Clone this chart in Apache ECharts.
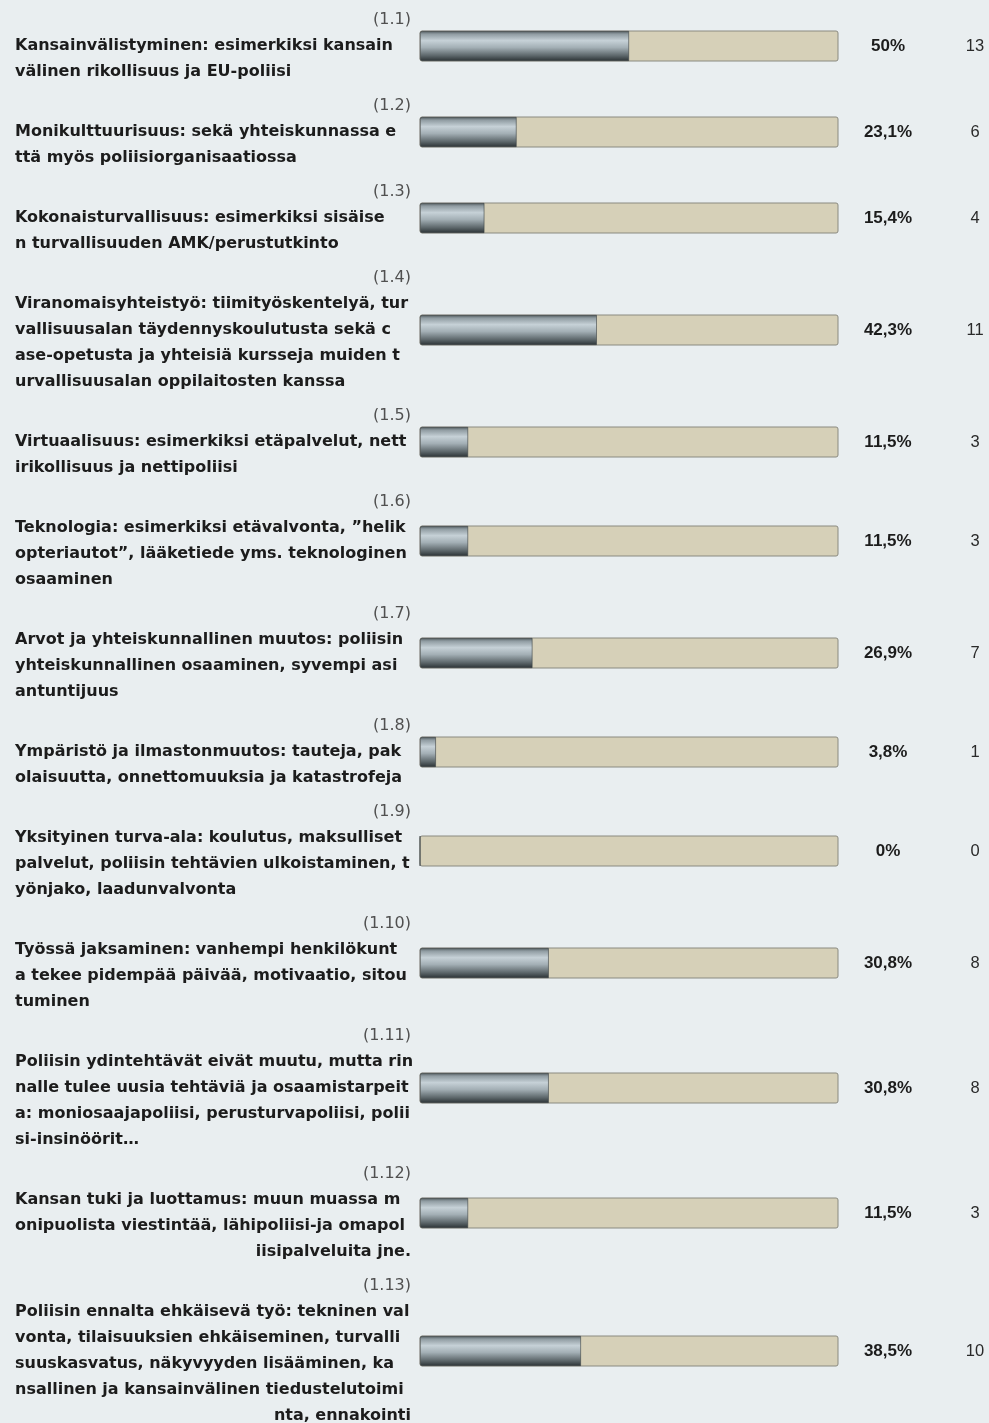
<!DOCTYPE html>
<html><head><meta charset="utf-8">
<script src="https://cdn.jsdelivr.net/npm/echarts@6/dist/echarts.min.js"></script>
<style>html,body{margin:0;padding:0;background:#e9eef0}#c{width:989px;height:1423px}</style>
</head><body><div id="c"></div>
<script>
// ---- data ----
const codes = ['(1.1)','(1.2)','(1.3)','(1.4)','(1.5)','(1.6)','(1.7)','(1.8)','(1.9)','(1.10)','(1.11)','(1.12)','(1.13)'];
const labelLines = [
  ['Kansainvälistyminen: esimerkiksi kansain','välinen rikollisuus ja EU-poliisi'],
  ['Monikulttuurisuus: sekä yhteiskunnassa e','ttä myös poliisiorganisaatiossa'],
  ['Kokonaisturvallisuus: esimerkiksi sisäise','n turvallisuuden AMK/perustutkinto'],
  ['Viranomaisyhteistyö: tiimityöskentelyä, tur','vallisuusalan täydennyskoulutusta sekä c','ase-opetusta ja yhteisiä kursseja muiden t','urvallisuusalan oppilaitosten kanssa'],
  ['Virtuaalisuus: esimerkiksi etäpalvelut, nett','irikollisuus ja nettipoliisi'],
  ['Teknologia: esimerkiksi etävalvonta, ”helik','opteriautot”, lääketiede yms. teknologinen','osaaminen'],
  ['Arvot ja yhteiskunnallinen muutos: poliisin','yhteiskunnallinen osaaminen, syvempi asi','antuntijuus'],
  ['Ympäristö ja ilmastonmuutos: tauteja, pak','olaisuutta, onnettomuuksia ja katastrofeja'],
  ['Yksityinen turva-ala: koulutus, maksulliset','palvelut, poliisin tehtävien ulkoistaminen, t','yönjako, laadunvalvonta'],
  ['Työssä jaksaminen: vanhempi henkilökunt','a tekee pidempää päivää, motivaatio, sitou','tuminen'],
  ['Poliisin ydintehtävät eivät muutu, mutta rin','nalle tulee uusia tehtäviä ja osaamistarpeit','a: moniosaajapoliisi, perusturvapoliisi, polii','si-insinöörit…'],
  ['Kansan tuki ja luottamus: muun muassa m','onipuolista viestintää, lähipoliisi-ja omapol','iisipalveluita jne.'],
  ['Poliisin ennalta ehkäisevä työ: tekninen val','vonta, tilaisuuksien ehkäiseminen, turvalli','suuskasvatus, näkyvyyden lisääminen, ka','nsallinen ja kansainvälinen tiedustelutoimi','nta, ennakointi']
];
const percents = [50, 23.1, 15.4, 42.3, 11.5, 11.5, 26.9, 3.8, 0, 30.8, 30.8, 11.5, 38.5];
const counts = [13, 6, 4, 11, 3, 3, 7, 1, 0, 8, 8, 3, 10];

// ---- layout / style ----
const rightLastLine = new Set([11, 12]);
const LH = 26, GAP = 8, BAR_H = 30, FIRST_CENTER = 46;
const FONT = '"Liberation Sans", Arial, sans-serif';
const WIDE = '"DejaVu Sans", Verdana, sans-serif';

const chart = echarts.init(document.getElementById('c'));
const grids = [], xAxes = [], yAxes = [], series = [];
let center = FIRST_CENTER;
codes.forEach((code, i) => {
  const n = labelLines[i].length + 1;
  if (i > 0) {
    const prevN = labelLines[i - 1].length + 1;
    center += (prevN + n) / 2 * LH + GAP;
  }
  grids.push({left: 420, width: 418, top: center - BAR_H / 2, height: BAR_H, outerBoundsMode: 'none', containLabel: false});
  xAxes.push({type: 'value', gridIndex: i, min: 0, max: 100, show: false});
  const commonY = {type: 'category', gridIndex: i, data: [code], axisLine: {show: false}, axisTick: {show: false}, splitLine: {show: false}};
  yAxes.push(Object.assign({}, commonY, {
    position: 'left',
    axisLabel: {
      margin: 9, align: 'right', verticalAlign: 'middle', width: 396,
      formatter: () => {
        const ls = labelLines[i];
        return '{n|' + code + '}\n' + ls.map((l, k) => (k === ls.length - 1 && rightLastLine.has(i) ? '{r|' : '{t|') + l + '}').join('\n');
      },
      rich: {
        n: {align: 'right', color: '#505050', fontSize: 16, fontFamily: WIDE, lineHeight: LH},
        t: {align: 'left', color: '#1c1c1c', fontSize: 16, fontWeight: 'bold', fontFamily: WIDE, lineHeight: LH},
        r: {align: 'right', color: '#1c1c1c', fontSize: 16, fontWeight: 'bold', fontFamily: WIDE, lineHeight: LH}
      }
    }
  }));
  yAxes.push(Object.assign({}, commonY, {
    position: 'right',
    axisLabel: {margin: 50, align: 'center', verticalAlign: 'middle', color: '#1c1c1c', fontSize: 17, fontWeight: 'bold', fontFamily: FONT,
      formatter: () => String(percents[i]).replace('.', ',') + '%'}
  }));
  yAxes.push(Object.assign({}, commonY, {
    position: 'right',
    axisLabel: {margin: 137, align: 'center', verticalAlign: 'middle', color: '#2a2a2a', fontSize: 16.5, fontFamily: FONT,
      formatter: () => String(counts[i])}
  }));
  series.push({
    type: 'bar', xAxisIndex: i, yAxisIndex: i * 3, barWidth: BAR_H, silent: true,
    data: [percents[i]],
    showBackground: true,
    backgroundStyle: {color: '#d6d0b8', borderColor: '#8a8a80', borderWidth: 1, borderRadius: 2},
    itemStyle: {
      borderRadius: [2, 0, 0, 2],
      borderColor: '#3a4144', borderWidth: 0.6,
      color: {type: 'linear', x: 0, y: 0, x2: 0, y2: 1, colorStops: [
        {offset: 0, color: '#4c5559'},
        {offset: 0.1, color: '#8f9ba1'},
        {offset: 0.32, color: '#c6d1d7'},
        {offset: 0.55, color: '#a3afb5'},
        {offset: 0.82, color: '#5d676b'},
        {offset: 1, color: '#2b3235'}
      ]}
    }
  });
});

chart.setOption({
  backgroundColor: '#e9eef0',
  animation: false,
  grid: grids, xAxis: xAxes, yAxis: yAxes, series: series
});
</script>
</body></html>
